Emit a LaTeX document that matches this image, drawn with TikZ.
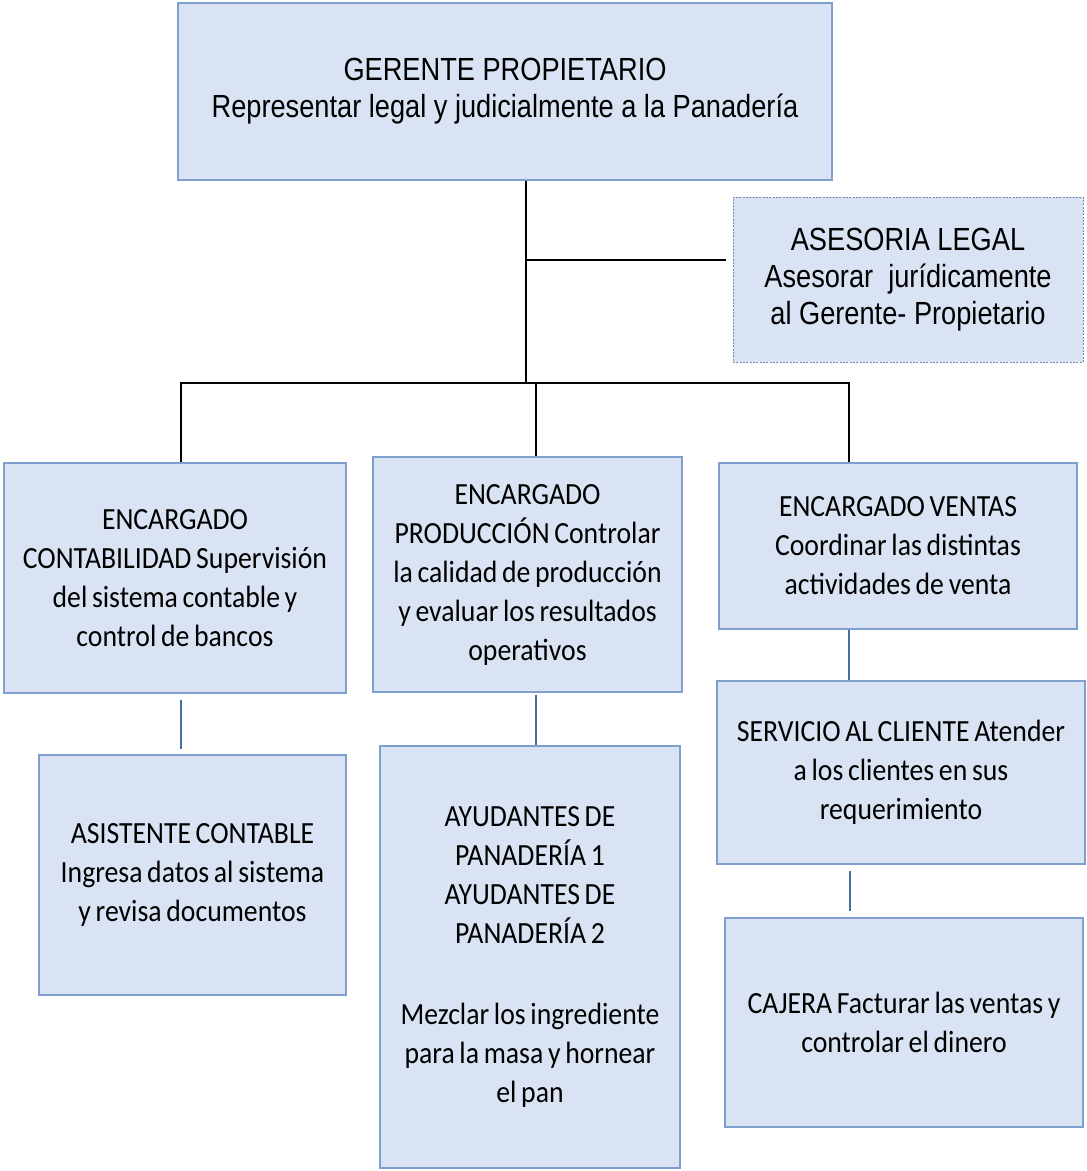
\documentclass[tikz,border=0pt]{standalone}
\usepackage{fontspec}
\setmainfont[FakeStretch=0.9, WordSpace=0.75]{Carlito}
\newfontfamily\arialfont[FakeStretch=0.85]{Liberation Sans}
\usetikzlibrary{positioning}

\definecolor{boxfill}{HTML}{DAE3F3}
\definecolor{boxline}{HTML}{7F9FCF}
\definecolor{linkblue}{HTML}{41719C}

\tikzset{
  post/.style={draw=boxline, line width=0.9pt, fill=boxfill, inner sep=0pt,
    align=center, font=\fontsize{23.1}{29.25}\selectfont},
  head/.style={post, font=\arialfont\fontsize{24}{27.75}\selectfont},
  adviser/.style={head, draw=linkblue!80, line width=0.6pt, dash pattern=on 1.5pt off 1pt},
  tree/.style={line width=1.2pt, black},
  link/.style={line width=1.2pt, linkblue}
}

\begin{document}
\begin{tikzpicture}[x=0.75pt, y=-0.75pt]

\def\u{0.75pt}

\path [use as bounding box] (0,0) rectangle (1086,1171);

% BOXES
\node [head, minimum width=654*\u, minimum height=177*\u] (ger) at (505,91.5)
  {GERENTE PROPIETARIO\\Representar legal y judicialmente a la Panadería};
\node [adviser, minimum width=350*\u, minimum height=165*\u] (legal) at (908,279.5)
  {ASESORIA LEGAL\\Asesorar\ \ jurídicamente\\al Gerente- Propietario};

\node [post, minimum width=342*\u, minimum height=230*\u] (cont) at (175,578)
  {ENCARGADO\\CONTABILIDAD Supervisión\\del sistema contable y\\control de bancos};
\node [post, minimum width=309*\u, minimum height=235*\u] (prod) at (527.5,574.5)
  {ENCARGADO\\PRODUCCIÓN Controlar\\la calidad de producción\\y evaluar los resultados\\operativos};
\node [post, minimum width=358*\u, minimum height=166*\u] (vent) at (898,546)
  {ENCARGADO VENTAS\\Coordinar las distintas\\actividades de venta};

\node [post, minimum width=307*\u, minimum height=240*\u] (asis) at (192.5,875)
  {ASISTENTE CONTABLE\\Ingresa datos al sistema\\y revisa documentos};
\node [post, minimum width=300*\u, minimum height=422*\u] (ayud) at (530,957)
  {AYUDANTES DE\\PANADERÍA 1\\AYUDANTES DE\\PANADERÍA 2\\[31pt]Mezclar los ingrediente\\para la masa y hornear\\el pan};
\node [post, minimum width=368*\u, minimum height=183*\u] (serv) at (901,772.5)
  {SERVICIO AL CLIENTE Atender\\a los clientes en sus\\requerimiento};
\node [post, minimum width=358*\u, minimum height=209*\u] (caja) at (904,1022.5)
  {CAJERA Facturar las ventas y\\controlar el dinero};

% TREE
\coordinate (trunk) at (526,383);
\coordinate (tee) at (526,260);
\coordinate (bl) at (181,383);
\coordinate (bm) at (536,383);
\coordinate (br) at (849,383);

\draw [tree] (trunk |- ger.south) -- (trunk);
\draw [tree] (tee) -- ([xshift=-7*\u]tee -| legal.west);
\draw [tree] (bl |- cont.north) -- (bl) -- (br) -- (br |- vent.north);
\draw [tree] (bm) -- (bm |- prod.north);

% LINKS
\draw [link] ([yshift=-6*\u]bl |- cont.south) -- ([yshift=5*\u]bl |- asis.north);
\draw [link] ([yshift=-2*\u]bm |- prod.south) -- (bm |- ayud.north);
\draw [link] (br |- vent.south) -- (br |- serv.north);
\draw [link] ([xshift=1*\u, yshift=-6*\u]br |- serv.south) -- ([xshift=1*\u, yshift=6*\u]br |- caja.north);

\end{tikzpicture}
\end{document}
